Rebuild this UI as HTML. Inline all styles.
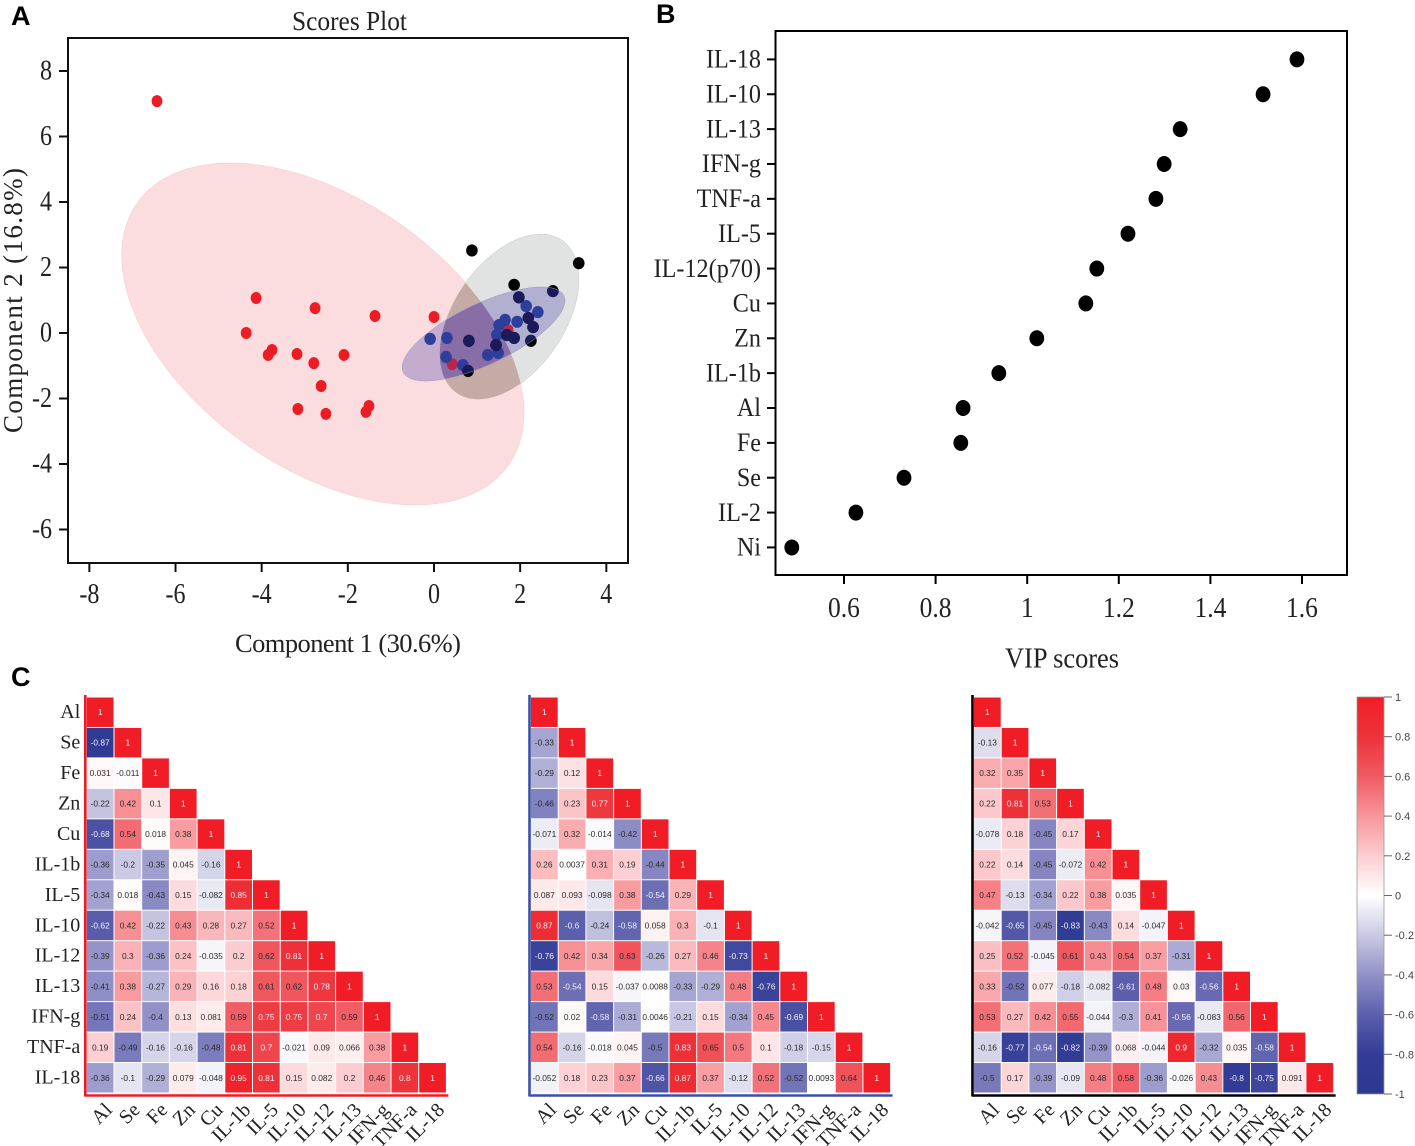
<!DOCTYPE html>
<html lang="en">
<head>
<meta charset="utf-8">
<title>Scores plot, VIP scores and correlation heatmaps</title>
<style>
  html, body { margin: 0; padding: 0; background: #fff; }
  svg { display: block; }
  text { font-family: "Liberation Serif", serif; fill: #222; }
  .sans { font-family: "Liberation Sans", sans-serif; }
  .panel { font-family: "Liberation Sans", sans-serif; font-weight: 700; font-size: 27px; fill: #000; }
</style>
</head>
<body>
<svg id="fig" xmlns="http://www.w3.org/2000/svg" width="1415" height="1146" viewBox="0 0 1415 1146">
  <rect width="1415" height="1146" fill="#fff"/>
  <text class="panel" x="11" y="25">A</text>
  <text class="panel" x="656" y="23">B</text>
  <text class="panel" x="11" y="686">C</text>

  <g id="scores">
    <text x="292" y="30" font-size="27" textLength="115" lengthAdjust="spacingAndGlyphs">Scores Plot</text>
    <text x="235" y="652" font-size="26.5" textLength="226" lengthAdjust="spacing">Component 1 (30.6%)</text>
    <text transform="translate(22,433) rotate(-90)" font-size="27" textLength="265" lengthAdjust="spacing">Component 2 (16.8%)</text>
  </g>

  <g id="vip">
    <text x="1005" y="667.5" font-size="29" textLength="114" lengthAdjust="spacingAndGlyphs">VIP scores</text>
  </g>

  <g id="heatmaps"></g>
  <g id="colorbar"></g>
</svg>

<script>
// ---------- Scores plot data ----------
const scoresXTicks = [-8, -6, -4, -2, 0, 2, 4];
const scoresYTicks = [8, 6, 4, 2, 0, -2, -4, -6];
const redX = [-6.43, -4.13, -2.76, -1.37, 0, -4.36, -3.76, -3.85, -3.18, -2.79, -2.09, -2.62, -3.16, -2.51, -1.51, -1.58, 0.42, 1.72];
const redY = [7.08, 1.07, 0.76, 0.52, 0.49, 0, -0.52, -0.67, -0.64, -0.92, -0.67, -1.62, -2.32, -2.47, -2.23, -2.41, -0.95, 0.09];
const blueX = [-0.09, 0.3, 0.28, 0.67, 1.25, 1.49, 1.46, 1.51, 1.65, 1.93, 2.14, 2.41];
const blueY = [-0.18, -0.15, -0.73, -0.98, -0.67, -0.61, -0.06, 0.24, 0.4, 0.34, 0.82, 0.64];
const blackX = [0.88, 3.36, 1.86, 2.76, 2.25, 0.79, 1.97, 2.19, 2.3, 1.69, 1.86, 1.44, 0.81];
const blackY = [2.52, 2.13, 1.47, 1.28, -0.24, -1.16, 1.09, 0.46, 0.18, -0.06, -0.15, -0.37, -0.24];
// Confidence ellipses: centre, spread along each axis, correlation (data units)
const redEllipse = [-2.58, -0.03, 4.67, 5.22, -0.46];
const grayEllipse = [1.75, 0.5, 1.613, 2.52, 0.45];
const blueEllipse = [1.15, -0.03, 1.89, 1.435, 0.71];

// ---------- VIP plot data ----------
const vipCategories = ["IL-18", "IL-10", "IL-13", "IFN-g", "TNF-a", "IL-5", "IL-12(p70)", "Cu", "Zn", "IL-1b", "Al", "Fe", "Se", "IL-2", "Ni"];
const vipValues = [1.589, 1.515, 1.334, 1.299, 1.281, 1.22, 1.152, 1.128, 1.021, 0.938, 0.86, 0.855, 0.731, 0.626, 0.486];
const vipXTicks = [0.6, 0.8, 1, 1.2, 1.4, 1.6];

// ---------- Heatmap data ----------
const corrLabels = ["Al", "Se", "Fe", "Zn", "Cu", "IL-1b", "IL-5", "IL-10", "IL-12", "IL-13", "IFN-g", "TNF-a", "IL-18"];
const corrGroup1 = [
  [1],
  [-0.87, 1],
  [0.031, -0.011, 1],
  [-0.22, 0.42, 0.1, 1],
  [-0.68, 0.54, 0.018, 0.38, 1],
  [-0.36, -0.2, -0.35, 0.045, -0.16, 1],
  [-0.34, 0.018, -0.43, 0.15, -0.082, 0.85, 1],
  [-0.62, 0.42, -0.22, 0.43, 0.28, 0.27, 0.52, 1],
  [-0.39, 0.3, -0.36, 0.24, -0.035, 0.2, 0.62, 0.81, 1],
  [-0.41, 0.38, -0.27, 0.29, 0.16, 0.18, 0.61, 0.62, 0.78, 1],
  [-0.51, 0.24, -0.4, 0.13, 0.081, 0.59, 0.75, 0.75, 0.7, 0.59, 1],
  [0.19, -0.49, -0.16, -0.16, -0.48, 0.81, 0.7, -0.021, 0.09, 0.066, 0.38, 1],
  [-0.36, -0.1, -0.29, 0.079, -0.048, 0.95, 0.81, 0.15, 0.082, 0.2, 0.46, 0.8, 1]
];
const corrGroup2 = [
  [1],
  [-0.33, 1],
  [-0.29, 0.12, 1],
  [-0.46, 0.23, 0.77, 1],
  [-0.071, 0.32, -0.014, -0.42, 1],
  [0.26, 0.0037, 0.31, 0.19, -0.44, 1],
  [0.087, 0.093, -0.098, 0.38, -0.54, 0.29, 1],
  [0.87, -0.6, -0.24, -0.58, 0.058, 0.3, -0.1, 1],
  [-0.76, 0.42, 0.34, 0.63, -0.26, 0.27, 0.46, -0.73, 1],
  [0.53, -0.54, 0.15, -0.037, 0.0088, -0.33, -0.29, 0.48, -0.76, 1],
  [-0.52, 0.02, -0.58, -0.31, 0.0046, -0.21, 0.15, -0.34, 0.45, -0.69, 1],
  [0.54, -0.16, -0.018, 0.045, -0.5, 0.83, 0.65, 0.5, 0.1, -0.18, -0.15, 1],
  [-0.052, 0.18, 0.23, 0.37, -0.66, 0.87, 0.37, -0.12, 0.52, -0.52, 0.0093, 0.64, 1]
];
const corrGroup3 = [
  [1],
  [-0.13, 1],
  [0.32, 0.35, 1],
  [0.22, 0.81, 0.53, 1],
  [-0.078, 0.18, -0.45, 0.17, 1],
  [0.22, 0.14, -0.45, -0.072, 0.42, 1],
  [0.47, -0.13, -0.34, 0.22, 0.38, 0.035, 1],
  [-0.042, -0.65, -0.45, -0.83, -0.43, 0.14, -0.047, 1],
  [0.25, 0.52, -0.045, 0.61, 0.43, 0.54, 0.37, -0.31, 1],
  [0.33, -0.52, 0.077, -0.18, -0.082, -0.61, 0.48, 0.03, -0.56, 1],
  [0.53, 0.27, 0.42, 0.55, -0.044, -0.3, 0.41, -0.56, -0.083, 0.56, 1],
  [-0.16, -0.77, -0.54, -0.82, -0.39, 0.068, -0.044, 0.9, -0.32, 0.035, -0.58, 1],
  [-0.5, 0.17, -0.39, -0.09, 0.48, 0.58, -0.36, -0.026, 0.43, -0.8, -0.75, 0.091, 1]
];
const colorbarTicks = [1, 0.8, 0.6, 0.4, 0.2, 0, -0.2, -0.4, -0.6, -0.8, -1];

// ---------- Helpers ----------
const NS = "http://www.w3.org/2000/svg";
function make(tag, parent, attrs) {
  const n = document.createElementNS(NS, tag);
  for (const k in attrs) n.setAttribute(k, attrs[k]);
  parent.appendChild(n);
  return n;
}
function makeText(parent, str, x, y, size, anchor, sx, cls) {
  const n = make("text", parent, {
    transform: `translate(${x},${y}) scale(${sx},1)`,
    "font-size": size,
    "text-anchor": anchor
  });
  if (cls) n.setAttribute("class", cls);
  n.textContent = String(str);
  return n;
}
const svg = document.getElementById("fig");

// Scale of the correlation colour map
const colorStops = [
  [-1, 43, 57, 144], [-0.8, 50, 60, 150], [-0.6, 92, 96, 172], [-0.4, 145, 145, 200], [-0.2, 202, 202, 228],
  [0, 255, 255, 255], [0.2, 252, 205, 208], [0.4, 247, 150, 155], [0.6, 240, 90, 98], [0.8, 238, 50, 58], [1, 240, 29, 38]
];
function corrColor(v) {
  const c = Math.max(-1, Math.min(1, v));
  for (let i = 1; i < colorStops.length; i++) {
    const a = colorStops[i - 1], b = colorStops[i];
    if (c <= b[0]) {
      const t = (c - a[0]) / (b[0] - a[0]);
      const ch = j => Math.round(a[j] + (b[j] - a[j]) * t);
      return `rgb(${ch(1)},${ch(2)},${ch(3)})`;
    }
  }
  return "rgb(240,29,38)";
}

// ---------- Scores plot ----------
const scores = document.getElementById("scores");
const scoresX = v => 434 + 43.08 * v;
const scoresY = v => 333 - 32.75 * v;
function ellipsePath(p) {
  const phi = Math.acos(p[4]);
  const pts = [];
  for (let i = 0; i < 120; i++) {
    const t = i / 120 * 2 * Math.PI;
    const dx = p[0] + p[2] * Math.cos(t);
    const dy = p[1] + p[3] * Math.cos(t - phi);
    pts.push(scoresX(dx).toFixed(2) + "," + scoresY(dy).toFixed(2));
  }
  return "M" + pts.join("L") + "Z";
}
const defs = make("defs", svg, {});
const clipGray = make("clipPath", defs, { id: "clip-gray" });
make("path", clipGray, { d: ellipsePath(grayEllipse) });
const clipBlue = make("clipPath", defs, { id: "clip-blue" });
make("path", clipBlue, { d: ellipsePath(blueEllipse) });

const redEl = make("path", scores, { d: ellipsePath(redEllipse), fill: "#fbdde0", stroke: "#f8ccd0", "stroke-width": 0.6 });


const grayEl = make("path", scores, { d: ellipsePath(grayEllipse), fill: "#e1e3e3", stroke: "#cfd1d1", "stroke-width": 0.6 });


const overlapGroup = make("g", scores, { "clip-path": "url(#clip-gray)" });


make("path", overlapGroup, { d: ellipsePath(redEllipse), fill: "#c5aaa6" });
const tripleGroup = make("g", overlapGroup, { "clip-path": "url(#clip-blue)" });
make("path", tripleGroup, { d: ellipsePath(redEllipse), fill: "#a783a7" });

redX.forEach((v, i) => {
  const p = make("ellipse", scores, { cx: scoresX(v), cy: scoresY(redY[i]), rx: 5.4, ry: 6, fill: "#ed1c24" });
  
  
});
blueX.forEach((v, i) => {
  const p = make("ellipse", scores, { cx: scoresX(v), cy: scoresY(blueY[i]), rx: 5.8, ry: 6.1, fill: "#253f95" });
  
  
});
blackX.forEach((v, i) => {
  const p = make("ellipse", scores, { cx: scoresX(v), cy: scoresY(blackY[i]), rx: 5.8, ry: 6.1, fill: "#000" });
  
  
});
// Black points seen through the blue ellipse look navy in the original
const navyLayer = make("g", scores, { "clip-path": "url(#clip-blue)" });


blackX.forEach((v, i) => {
  const p = make("ellipse", navyLayer, { cx: scoresX(v), cy: scoresY(blackY[i]), rx: 5.8, ry: 6.1, fill: "#0a0c38" });
  
  
});
const blueEl = make("path", scores, { d: ellipsePath(blueEllipse), fill: "rgb(70,60,170)", "fill-opacity": 0.3, stroke: "#9a9ac8", "stroke-width": 0.5 });



const scoresFrame = make("rect", scores, { x: 68, y: 38, width: 560, height: 525, fill: "none", stroke: "#111", "stroke-width": 2 });


scoresXTicks.forEach(v => {
  const t = make("line", scores, { x1: scoresX(v), x2: scoresX(v), y1: 563, y2: 572, stroke: "#111", "stroke-width": 2 });
  
  
  const l = makeText(scores, v, scoresX(v), 603, 28, "middle", 0.86);
  
  
});
scoresYTicks.forEach(v => {
  const t = make("line", scores, { x1: 59, x2: 68, y1: scoresY(v), y2: scoresY(v), stroke: "#111", "stroke-width": 2 });
  
  
  const l = makeText(scores, v, 52, scoresY(v) + 8.5, 28, "end", 0.86);
  
  
});

// ---------- VIP plot ----------
const vip = document.getElementById("vip");
const vipX = v => 844 + 458 * (v - 0.6);
const vipY = i => 59.4 + 34.86 * i;
const vipFrame = make("rect", vip, { x: 775.5, y: 31, width: 571.5, height: 544, fill: "none", stroke: "#000", "stroke-width": 2 });


vipCategories.forEach((c, i) => {
  const t = make("line", vip, { x1: 767, x2: 775, y1: vipY(i), y2: vipY(i), stroke: "#000", "stroke-width": 2 });
  
  
  const l = makeText(vip, c, 761, vipY(i) + 8.2, 26, "end", 0.93);
  
  
  const p = make("ellipse", vip, { cx: vipX(vipValues[i]), cy: vipY(i), rx: 7.4, ry: 8, fill: "#000" });
  
  
});
vipXTicks.forEach(v => {
  const t = make("line", vip, { x1: vipX(v), x2: vipX(v), y1: 575, y2: 584, stroke: "#000", "stroke-width": 2 });
  
  
  const l = makeText(vip, v, vipX(v), 617, 29, "middle", 0.88);
  
  
});

// ---------- Heatmaps ----------
const heatmaps = document.getElementById("heatmaps");
const cellW = 27.7, cellH = 30.46, heatTop = 697;
function drawHeatmap(values, left, axisColor, showRowLabels, name) {
  const g = make("g", heatmaps, {});
  
  
  const colX = j => left + cellW * j;
  const rowY = i => heatTop + cellH * i;
  values.forEach((row, i) => {
    row.forEach((v, j) => {
      const r = make("rect", g, { x: colX(j) + 0.5, y: rowY(i) + 0.5, width: cellW - 1, height: cellH - 1, fill: corrColor(v) });
      
      
      const t = makeText(g, v, colX(j) + cellW / 2, rowY(i) + cellH / 2 + 3, 8.4, "middle", 1, "sans");
      
      
      t.style.fill = (v >= 0.7 || v <= -0.54) ? "#f4f0f4" : "#2a2a2a";
    });
  });
  const axisY = make("line", g, { x1: left - 1, x2: left - 1, y1: 695, y2: 1096, stroke: axisColor, "stroke-width": 2.6 });
  
  
  const axisX = make("line", g, { x1: left - 2, x2: left + cellW * 13 + 2, y1: 1095.5, y2: 1095.5, stroke: axisColor, "stroke-width": 2.4 });
  
  
  corrLabels.forEach((c, i) => {
    if (showRowLabels) {
      const rl = makeText(g, c, left - 6, rowY(i) + cellH / 2 + 5.8, 20, "end", 1);
      
      
    }
    const cl = make("text", g, {
      transform: `translate(${colX(i) + cellW / 2 + 13},${1111}) rotate(-45)`,
      "font-size": 20,
      "text-anchor": "end"
    });
    
    
    cl.textContent = c;
  });
}
drawHeatmap(corrGroup1, 86.3, "#ed1c24", true, "heatmap-group-1");
drawHeatmap(corrGroup2, 530.5, "#3b50a5", false, "heatmap-group-2");
drawHeatmap(corrGroup3, 973.5, "#000", false, "heatmap-group-3");

// ---------- Colorbar ----------
const colorbar = document.getElementById("colorbar");
const barY = v => 895.5 - 198.5 * v;
const grad = make("linearGradient", defs, { id: "bar-gradient", x1: 0, y1: 0, x2: 0, y2: 1 });
colorStops.slice().reverse().forEach(s => {
  make("stop", grad, { offset: (1 - s[0]) / 2, "stop-color": `rgb(${s[1]},${s[2]},${s[3]})` });
});
const bar = make("rect", colorbar, { x: 1357, y: barY(1), width: 27, height: barY(-1) - barY(1), fill: "url(#bar-gradient)", stroke: "#999", "stroke-width": 0.8 });


colorbarTicks.forEach(v => {
  const t = make("line", colorbar, { x1: 1384, x2: 1392, y1: barY(v), y2: barY(v), stroke: "#666", "stroke-width": 1 });
  
  
  const l = makeText(colorbar, v, 1395, barY(v) + 4, 11, "start", 1, "sans");
  
  
  l.style.fill = "#444";
});
</script>
</body>
</html>
